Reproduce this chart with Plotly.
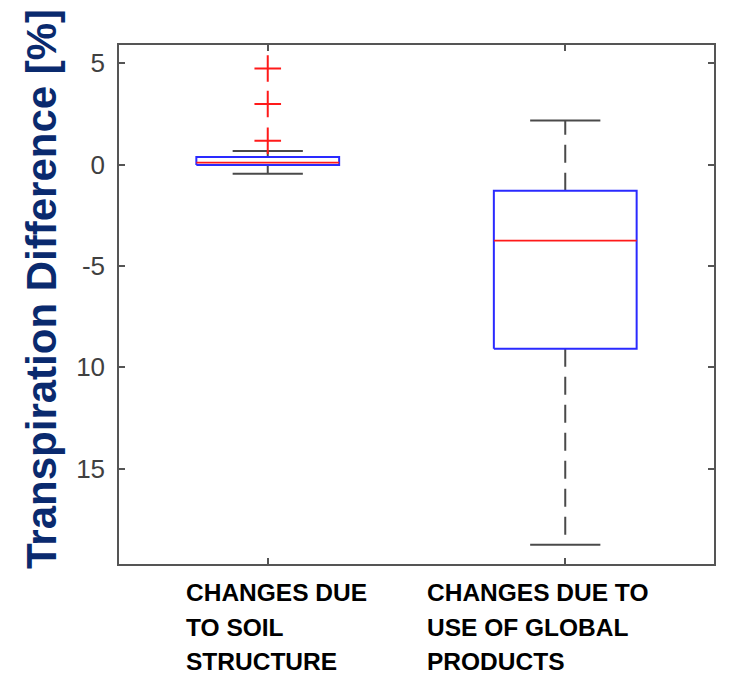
import plotly.graph_objects as go

# ---- data ----
categories = [["CHANGES DUE", "TO SOIL", "STRUCTURE"],
              ["CHANGES DUE TO", "USE OF GLOBAL", "PRODUCTS"]]
positions = [1, 2]
lower_whisker = [-0.45, -18.75]
q1 = [-0.02, -9.08]
median = [0.10, -3.75]
q3 = [0.38, -1.29]
upper_whisker = [0.67, 2.18]
outliers_x = [1, 1, 1]
outliers_y = [4.74, 2.99, 1.18]

ytick_vals = [5, 0, -5, -10, -15]
ytick_text = ["5", "0", "-5", "10", "15"]

# ---- style ----
BOX_HW = 0.24
CAP_HW = 0.118
WHISK_COLOR = "#4a4a4a"
AXIS_COLOR = "#555555"
PAGE_OFF = 8                 # default body margin of the html page
PLOT_LEFT, PLOT_TOP = 119, 45  # plot area position in the window
PLOT_W, PLOT_H = 595, 519

fig = go.Figure()

for i, c in enumerate(positions):
    # upper / lower dashed whiskers
    fig.add_trace(go.Scatter(x=[c, c], y=[q3[i], upper_whisker[i]], mode="lines",
                             line=dict(color=WHISK_COLOR, width=2, dash="18px,10px"),
                             showlegend=False, hoverinfo="skip"))
    fig.add_trace(go.Scatter(x=[c, c], y=[q1[i], lower_whisker[i]], mode="lines",
                             line=dict(color=WHISK_COLOR, width=2, dash="18px,10px"),
                             showlegend=False, hoverinfo="skip"))
    # caps
    for w in (upper_whisker[i], lower_whisker[i]):
        fig.add_trace(go.Scatter(x=[c - CAP_HW, c + CAP_HW], y=[w, w], mode="lines",
                                 line=dict(color=WHISK_COLOR, width=2),
                                 showlegend=False, hoverinfo="skip"))
    # box
    fig.add_trace(go.Scatter(x=[c - BOX_HW, c + BOX_HW, c + BOX_HW, c - BOX_HW, c - BOX_HW],
                             y=[q1[i], q1[i], q3[i], q3[i], q1[i]], mode="lines",
                             line=dict(color="#2a2aff", width=2),
                             showlegend=False, hoverinfo="skip"))
    # median
    fig.add_trace(go.Scatter(x=[c - BOX_HW, c + BOX_HW], y=[median[i], median[i]], mode="lines",
                             line=dict(color="#ff1a1a", width=1.8),
                             showlegend=False, hoverinfo="skip"))

# outliers
fig.add_trace(go.Scatter(x=outliers_x, y=outliers_y, mode="markers",
                         marker=dict(symbol="cross-thin", size=19,
                                     line=dict(color="#ff1a1a", width=2)),
                         showlegend=False, hoverinfo="skip"))

fig.update_layout(
    width=731 - PAGE_OFF, height=677 - PAGE_OFF,
    margin=dict(l=PLOT_LEFT - PAGE_OFF, r=731 - PLOT_LEFT - PLOT_W,
                t=PLOT_TOP - PAGE_OFF, b=677 - PLOT_TOP - PLOT_H),
    plot_bgcolor="white", paper_bgcolor="white",
    font=dict(family="Liberation Sans, Arial, sans-serif"),
)

fig.update_xaxes(range=[0.5, 2.5], tickvals=positions, showticklabels=False,
                 ticks="inside", ticklen=6, tickwidth=1.5, tickcolor=AXIS_COLOR,
                 showline=True, linecolor=AXIS_COLOR, linewidth=1.5, mirror="ticks",
                 showgrid=False, zeroline=False)
fig.update_yaxes(range=[-19.7, 5.9], tickvals=ytick_vals, ticktext=ytick_text,
                 ticks="inside", ticklen=6, tickwidth=1.5, tickcolor=AXIS_COLOR,
                 showline=True, linecolor=AXIS_COLOR, linewidth=1.5, mirror="ticks",
                 showgrid=False, zeroline=False, ticklabelstandoff=7,
                 tickfont=dict(size=26, color="#404040"))

def px_to_paper_x(px):
    return (px - PLOT_LEFT) / PLOT_W

def px_to_paper_y(py):
    return 1 - (py - PLOT_TOP) / PLOT_H

# y-axis title
fig.add_annotation(text="<b>Transpiration Difference [%]</b>", textangle=-90,
                   xref="paper", yref="paper", x=px_to_paper_x(41), y=px_to_paper_y(289),
                   xanchor="center", yanchor="middle", showarrow=False,
                   font=dict(size=42, color="#0a2a6e"))

# category labels (one annotation per line, left aligned blocks)
label_x_px = [184, 425]
line_center_px = [592.5, 627.5, 661.5]
for lx, lines in zip(label_x_px, categories):
    for ly, txt in zip(line_center_px, lines):
        fig.add_annotation(text="<b>" + txt + "</b>", align="left",
                           xref="paper", yref="paper",
                           x=px_to_paper_x(lx), y=px_to_paper_y(ly),
                           xanchor="left", yanchor="middle", showarrow=False,
                           font=dict(size=24.5, color="black"))

fig.write_html("out.html")
